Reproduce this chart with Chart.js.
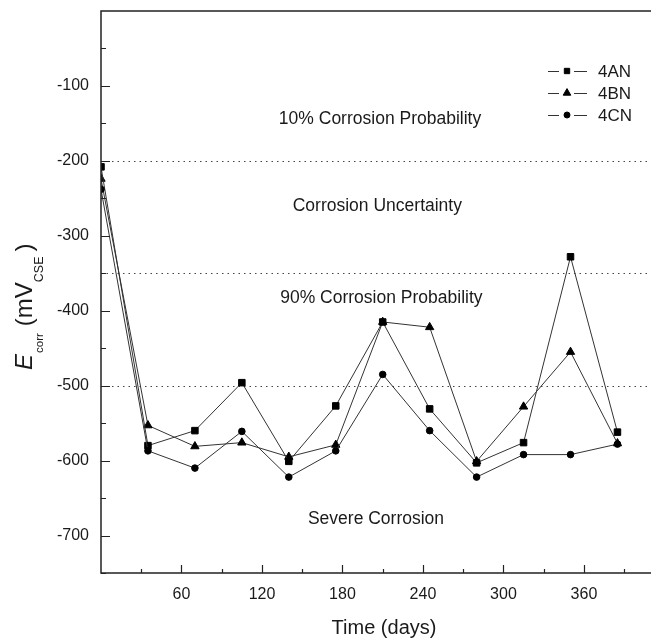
<!DOCTYPE html>
<html>
<head>
<meta charset="utf-8">
<script src="https://cdn.jsdelivr.net/npm/chart.js@4.4.1/dist/chart.umd.min.js"></script>
<style>
  html, body { margin: 0; padding: 0; background: #fff; }
</style>
</head>
<body>
<canvas id="chart" width="651" height="641"></canvas>
<script>
const days = [0, 35, 70, 105, 140, 175, 210, 245, 280, 315, 350, 385];
const an4 = [-208, -580, -560, -496, -601, -527, -415, -531, -603, -576, -328, -562];
const bn4 = [-224, -553, -581, -576, -595, -579, -415, -422, -601, -528, -455, -577];
const cn4 = [-238, -587, -610, -561, -622, -587, -485, -560, -622, -592, -592, -578];
const seriesNames = ['4AN', '4BN', '4CN'];
const xTickVals = [60, 120, 180, 240, 300, 360];
const xMinorVals = [30, 90, 150, 210, 270, 330, 390];
const yTickVals = [-100, -200, -300, -400, -500, -600, -700];
const yMinorVals = [-50, -150, -250, -350, -450, -550, -650, -750];
const limitLines = [-200, -350, -500];
const zoneLabels = ['10% Corrosion Probability', 'Corrosion Uncertainty', '90% Corrosion Probability', 'Severe Corrosion'];
const zoneX = [208, 206, 209, 205];
const zoneY = [-144, -260, -383, -678];

const FONT = '"Liberation Sans", Arial, sans-serif';
const styles = ['rect', 'triangle', 'circle'];
const radii = [4.6, 4.8, 3.3];

// dotted limit lines, zone text, inward ticks, legend, axis titles
const frame = {
  id: 'frame',
  beforeDatasetsDraw(chart) {
    const {ctx, chartArea: a, scales: {x, y}} = chart;
    ctx.save();
    ctx.strokeStyle = '#444';
    ctx.lineWidth = 1;
    ctx.setLineDash([1.5, 4]);
    limitLines.forEach(v => {
      const py = Math.round(y.getPixelForValue(v)) + 0.5;
      ctx.beginPath();
      ctx.moveTo(a.left, py);
      ctx.lineTo(a.right, py);
      ctx.stroke();
    });
    ctx.setLineDash([]);
    ctx.fillStyle = '#1a1a1a';
    ctx.font = '17.5px ' + FONT;
    ctx.textAlign = 'center';
    ctx.textBaseline = 'middle';
    zoneLabels.forEach((t, i) => {
      ctx.fillText(t, x.getPixelForValue(zoneX[i]), y.getPixelForValue(zoneY[i]));
    });
    ctx.restore();
  },
  afterDraw(chart) {
    const {ctx, chartArea: a, scales: {x, y}} = chart;
    ctx.save();
    ctx.strokeStyle = '#222';
    ctx.lineWidth = 1.5;
    ctx.beginPath();
    ctx.moveTo(a.right, a.top);
    ctx.lineTo(a.left, a.top);
    ctx.lineTo(a.left, a.bottom);
    ctx.lineTo(a.right, a.bottom);
    ctx.stroke();

    ctx.lineWidth = 1.2;
    ctx.beginPath();
    xTickVals.forEach(v => {
      const px = Math.round(x.getPixelForValue(v)) + 0.5;
      ctx.moveTo(px, a.bottom); ctx.lineTo(px, a.bottom - 8);
    });
    xMinorVals.forEach(v => {
      const px = Math.round(x.getPixelForValue(v)) + 0.5;
      ctx.moveTo(px, a.bottom); ctx.lineTo(px, a.bottom - 4);
    });
    yTickVals.forEach(v => {
      const py = Math.round(y.getPixelForValue(v)) + 0.5;
      ctx.moveTo(a.left, py); ctx.lineTo(a.left + 9, py);
    });
    yMinorVals.forEach(v => {
      const py = Math.round(y.getPixelForValue(v)) + 0.5;
      ctx.moveTo(a.left, py); ctx.lineTo(a.left + 5, py);
    });
    ctx.stroke();

    // legend
    ctx.font = '17px ' + FONT;
    ctx.textAlign = 'left';
    ctx.textBaseline = 'middle';
    seriesNames.forEach((name, i) => {
      const ly = 71 + 22 * i;
      ctx.strokeStyle = '#333';
      ctx.lineWidth = 1;
      ctx.beginPath();
      ctx.moveTo(548, ly + 0.5); ctx.lineTo(559, ly + 0.5);
      ctx.moveTo(574, ly + 0.5); ctx.lineTo(587, ly + 0.5);
      ctx.stroke();
      ctx.fillStyle = '#000';
      ctx.strokeStyle = '#000';
      Chart.helpers.drawPoint(ctx, {pointStyle: styles[i], radius: [3.8, 4.4, 3][i], rotation: 0, borderWidth: 1}, 567, ly);
      ctx.fillStyle = '#1a1a1a';
      ctx.fillText(name, 598, ly + 1);
    });

    // x title
    ctx.font = '20px ' + FONT;
    ctx.textAlign = 'center';
    ctx.textBaseline = 'alphabetic';
    ctx.fillText('Time (days)', 384, 634);

    // y title with subscripts
    ctx.translate(32, 370);
    ctx.rotate(-Math.PI / 2);
    ctx.textAlign = 'left';
    const parts = [
      ['E', 'italic 24px ' + FONT, 0, 1],
      ['corr', '11.5px ' + FONT, 11, 7],
      ['(mV', '24px ' + FONT, 0, 0],
      ['CSE', '12.5px ' + FONT, 11, 5],
      [')', '24px ' + FONT, 0, 0]
    ];
    let u = 0;
    parts.forEach(([t, f, dv, gap]) => {
      ctx.font = f;
      ctx.fillText(t, u, dv);
      u += ctx.measureText(t).width + gap;
    });
    ctx.restore();
  }
};

function series(label, data, i) {
  return {
    label: label,
    data: days.map((d, k) => ({x: d, y: data[k]})),
    borderColor: '#333',
    borderWidth: 1,
    backgroundColor: '#000',
    pointBackgroundColor: '#000',
    pointBorderColor: '#000',
    pointBorderWidth: 1,
    pointStyle: styles[i],
    pointRadius: radii[i],
    tension: 0
  };
}

new Chart(document.getElementById('chart'), {
  type: 'line',
  data: {
    datasets: [series('4CN', cn4, 2), series('4AN', an4, 0), series('4BN', bn4, 1)]
  },
  options: {
    responsive: false,
    animation: false,
    layout: {autoPadding: false, padding: {top: 11, right: 0, left: 0, bottom: 0}},
    plugins: {legend: {display: false}, tooltip: {enabled: false}},
    scales: {
      x: {
        type: 'linear',
        min: 0,
        max: 410,
        afterFit: s => { s.height = 68; s.paddingLeft = 0; s.paddingRight = 0; },
        afterBuildTicks: s => { s.ticks = xTickVals.map(v => ({value: v})); },
        grid: {display: false, drawTicks: false},
        border: {display: false},
        ticks: {
          padding: 12,
          color: '#1a1a1a',
          font: {family: FONT, size: 16},
          maxRotation: 0,
          autoSkip: false,
          callback: v => String(v)
        }
      },
      y: {
        min: -750,
        max: 0,
        afterFit: s => { s.width = 101; s.paddingTop = 0; s.paddingBottom = 0; },
        afterBuildTicks: s => { s.ticks = yTickVals.map(v => ({value: v})); },
        grid: {display: false, drawTicks: false},
        border: {display: false},
        ticks: {
          padding: 12,
          color: '#1a1a1a',
          font: {family: FONT, size: 16},
          autoSkip: false,
          callback: v => String(v)
        }
      }
    }
  },
  plugins: [frame]
});
</script>
</body>
</html>
